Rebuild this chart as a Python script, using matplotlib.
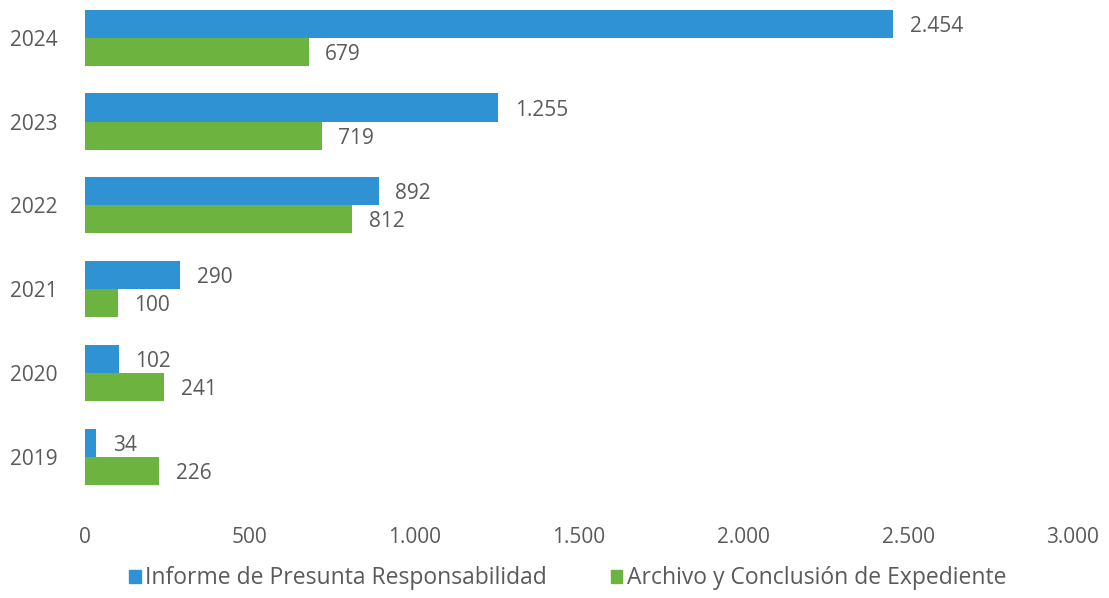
import matplotlib
matplotlib.use("Agg")
import matplotlib.pyplot as plt
import numpy as np
from matplotlib.patches import Patch

years = ["2019", "2020", "2021", "2022", "2023", "2024"]
informe = [34, 102, 290, 892, 1255, 2454]
archivo = [226, 241, 100, 812, 719, 679]
series_names = ["Informe de Presunta Responsabilidad", "Archivo y Conclusión de Expediente"]
xticks = [0, 500, 1000, 1500, 2000, 2500, 3000]

blue = "#2f93d3"
green = "#6db33f"
txt = "#5a5a5a"

plt.rcParams['font.family'] = ['Open Sans', 'DejaVu Sans']

fig = plt.figure(figsize=(11.09, 5.98), dpi=100)
ax = fig.add_axes([0.0766, 0.166, 0.8909, 0.834])

y = np.arange(len(years))
h = 0.335
ax.barh(y + h / 2, informe, height=h, color=blue)
ax.barh(y - h / 2, archivo, height=h, color=green)

def fmt(v):
    return f"{v:,}".replace(",", ".")

for yi, v in zip(y, informe):
    ax.text(v + 50, yi + h / 2 - 0.03, fmt(v), va="center", ha="left", fontsize=15, color=txt)
for yi, v in zip(y, archivo):
    ax.text(v + 50, yi - h / 2 - 0.03, fmt(v), va="center", ha="left", fontsize=15, color=txt)

ax.set_xlim(0, 3000)
ax.set_ylim(-0.5, 5.45)
ax.set_xticks(xticks)
ax.set_xticklabels([fmt(t) for t in xticks])
ax.set_yticks(y)
ax.set_yticklabels(years)
ax.tick_params(axis="both", length=0, labelsize=15, labelcolor=txt)
ax.tick_params(axis="x", pad=20)
ax.tick_params(axis="y", pad=20)
for s in ax.spines.values():
    s.set_visible(False)

handles = [Patch(color=blue), Patch(color=green)]
fig.legend(handles, series_names, loc="center", bbox_to_anchor=(0.512, 0.033), ncol=2,
           frameon=False, fontsize=16.5, handlelength=0.5, handleheight=0.5,
           handletextpad=0.2, columnspacing=2.8, labelcolor=txt)

fig.savefig("out.png", dpi=100, facecolor="white")
